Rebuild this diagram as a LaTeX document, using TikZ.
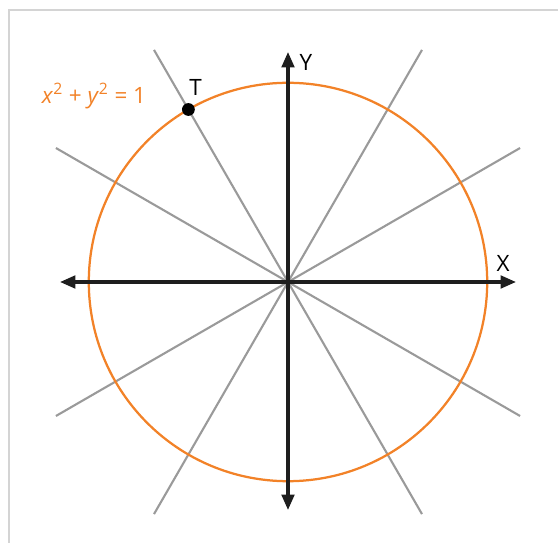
\documentclass[tikz,border=0pt]{standalone}
\usepackage{fontspec}
\setmainfont{Open Sans}
\usepackage{xcolor}
\definecolor{circOrange}{HTML}{F28228}
\definecolor{lineGray}{HTML}{9A9A9A}
\definecolor{axisBlack}{HTML}{1E1E1E}
\definecolor{frameGray}{HTML}{D4D4D4}
\usepackage{tikz}
\usetikzlibrary{arrows.meta,positioning}

\tikzset{
  axis/.style={->, axisBlack, line width=2.2pt},
  ray/.style={lineGray, line width=1.5pt},
  lbl/.style={font=\fontsize{16}{19}\selectfont, inner sep=1pt}
}

\begin{document}
\begin{tikzpicture}[>={Triangle[length=11pt,width=9pt]}]
  \useasboundingbox (-7.2,-6.525) rectangle (6.75,7.05);
  % ---- frame ----
  \draw[frameGray, line width=1.4pt] (-6.975,-6.6) -- (-6.975,6.8) -- (6.8,6.8);
  % ---- rays through the origin ----
  \coordinate (O) at (0,0);
  \foreach \a in {30,60,120,150} {
    \draw[ray] (\a:6.7) -- (\a+180:6.7);
  }
  % ---- unit circle ----
  \draw[circOrange, line width=1.6pt] (O) circle (4.98);
  % ---- axes ----
  \coordinate (xl) at (-5.7,0);
  \coordinate (xr) at (5.7,0);
  \coordinate (yb) at (0,-5.7);
  \coordinate (yt) at (0,5.75);
  \draw[axis, <->] (xl) -- (xr);
  \draw[axis, <->] (yb) -- (yt);
  \node[lbl, anchor=south] (xlab) at (5.38,0.22) {X};
  \node[lbl, anchor=west] (ylab) at (0.25,5.48) {Y};
  % ---- point T ----
  \coordinate (T) at (120:4.98);
  \fill[black] (T) circle (0.16);
  \node[lbl, above right=0.3cm and -0.02cm of T] (tlab) {T};
  \node[lbl, text=circOrange] (eq) at (-4.85,4.65)
    {\textit{x}\textsuperscript{2} + \textit{y}\textsuperscript{2} = 1};
\end{tikzpicture}
\end{document}
